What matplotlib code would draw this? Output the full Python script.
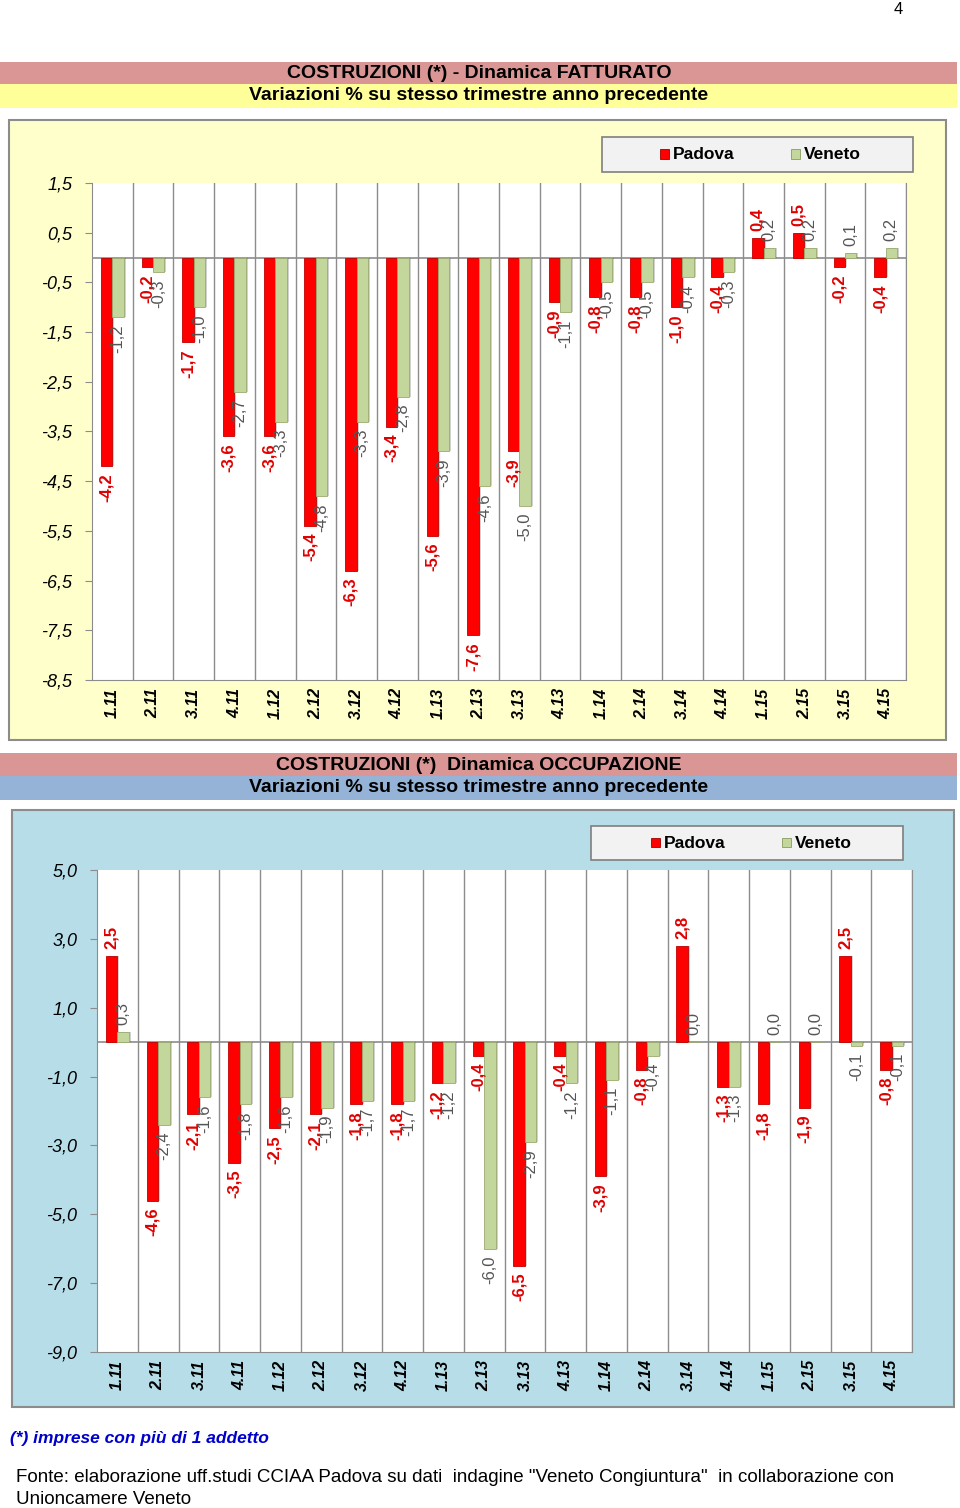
import numpy as np
import matplotlib.pyplot as plt
from matplotlib.patches import Rectangle

plt.rcParams['font.family'] = ['Liberation Sans', 'DejaVu Sans']

# dati
trimestri = ["1.11", "2.11", "3.11", "4.11", "1.12", "2.12", "3.12", "4.12", "1.13", "2.13",
             "3.13", "4.13", "1.14", "2.14", "3.14", "4.14", "1.15", "2.15", "3.15", "4.15"]

fatt_padova = [-4.2, -0.2, -1.7, -3.6, -3.6, -5.4, -6.3, -3.4, -5.6, -7.6,
               -3.9, -0.9, -0.8, -0.8, -1.0, -0.4, 0.4, 0.5, -0.2, -0.4]
fatt_veneto = [-1.2, -0.3, -1.0, -2.7, -3.3, -4.8, -3.3, -2.8, -3.9, -4.6,
               -5.0, -1.1, -0.5, -0.5, -0.4, -0.3, 0.2, 0.2, 0.1, 0.2]

occ_padova = [2.5, -4.6, -2.1, -3.5, -2.5, -2.1, -1.8, -1.8, -1.2, -0.4,
              -6.5, -0.4, -3.9, -0.8, 2.8, -1.3, -1.8, -1.9, 2.5, -0.8]
occ_veneto = [0.3, -2.4, -1.6, -1.8, -1.6, -1.9, -1.7, -1.7, -1.2, -6.0,
              -2.9, -1.2, -1.1, -0.4, 0.0, -1.3, 0.0, 0.0, -0.1, -0.1]

fatt_ticks = [1.5, 0.5, -0.5, -1.5, -2.5, -3.5, -4.5, -5.5, -6.5, -7.5, -8.5]
occ_ticks = [5.0, 3.0, 1.0, -1.0, -3.0, -5.0, -7.0, -9.0]

W, H = 960, 1508
ROSSO = "#FF0000"
VERDE = "#C3D69B"
GRIGIO = "#8C8C8C"

fig = plt.figure(figsize=(W / 100, H / 100), dpi=100)
fig.patch.set_facecolor("white")


def box(x0, y0, x1, y1):
    return [x0 / W, 1 - y1 / H, (x1 - x0) / W, (y1 - y0) / H]


def rett(x0, y0, x1, y1, fc, ec="none", lw=0, z=0):
    b = box(x0, y0, x1, y1)
    fig.add_artist(Rectangle((b[0], b[1]), b[2], b[3], transform=fig.transFigure,
                             facecolor=fc, edgecolor=ec, linewidth=lw, zorder=z))


def testo(x, y, s, **kw):
    fig.text(x / W, 1 - y / H, s, **kw)


def virgola(v):
    return f"{v:.1f}".replace(".", ",")


def legenda(x0, y0, x1, y1, xp, xv):
    rett(x0, y0, x1, y1, "#F2F2F2", "#7F7F7F", 1.2, z=1)
    ym = (y0 + y1) / 2
    rett(xp, ym - 5, xp + 9, ym + 4, ROSSO, "#A00000", 0.6, z=2)
    rett(xv, ym - 5, xv + 9, ym + 4, VERDE, "#8A9A60", 0.6, z=2)
    testo(xp + 13, ym, "Padova", fontsize=12.5, fontweight="bold", va="center", zorder=3)
    testo(xv + 13, ym, "Veneto", fontsize=12.5, fontweight="bold", va="center", zorder=3)


def grafico(rect, padova, veneto, ticks, off):
    ax = fig.add_axes(rect)
    x = np.arange(len(trimestri))
    w = 0.28
    # ombra
    ax.bar(x - w / 2 + 0.05, padova, w, color="#000000", alpha=0.18, zorder=2)
    ax.bar(x + w / 2 + 0.05, veneto, w, color="#000000", alpha=0.18, zorder=2)
    ax.bar(x - w / 2, padova, w, color=ROSSO, edgecolor="#C00000", linewidth=0.6, zorder=3)
    ax.bar(x + w / 2, veneto, w, color=VERDE, edgecolor="#9BAA70", linewidth=0.6, zorder=3)

    for i in x:
        p, v = padova[i], veneto[i]
        ax.annotate(virgola(p), (i - w / 2, p), xytext=(0, off if p >= 0 else -off),
                    textcoords="offset points", rotation=90, ha="center",
                    va="bottom" if p >= 0 else "top", color="#E00000",
                    fontsize=12, fontweight="bold", zorder=4)
        ax.annotate(virgola(v), (i + w / 2, v), xytext=(0, off if v >= 0 else -off),
                    textcoords="offset points", rotation=90, ha="center",
                    va="bottom" if v >= 0 else "top", color="#555555",
                    fontsize=12, zorder=4)

    for b in np.arange(0.5, len(trimestri), 1):
        ax.axvline(b, color=GRIGIO, lw=1, zorder=1)
    ax.axhline(0, color=GRIGIO, lw=1.2, zorder=1)

    ax.set_xlim(-0.5, len(trimestri) - 0.5)
    ax.set_ylim(min(ticks), max(ticks))
    ax.set_yticks(ticks)
    ax.set_yticklabels([virgola(t) for t in ticks], fontsize=13, style="italic")
    ax.set_xticks(x)
    ax.set_xticklabels(trimestri, rotation=90, fontsize=11.5, fontweight="bold", style="italic")
    ax.tick_params(axis="x", length=0, pad=6)
    ax.tick_params(axis="y", length=5, color=GRIGIO, pad=9)
    ax.spines["top"].set_visible(False)
    for s in ["left", "bottom", "right"]:
        ax.spines[s].set_color(GRIGIO)
    ax.set_facecolor("white")
    return ax


# numero di pagina
testo(898, 9, "4", fontsize=12, ha="center", va="center")

# ---- FATTURATO
rett(0, 62, 957, 84, "#D99694")
rett(0, 84, 957, 108, "#FFFF99")
testo(479, 73, "COSTRUZIONI (*) - Dinamica FATTURATO", fontsize=14, fontweight="bold",
      ha="center", va="center")
testo(479, 96, "Variazioni % su stesso trimestre anno precedente", fontsize=14,
      fontweight="bold", ha="center", va="center")
rett(9, 120, 946, 740, "#FFFFCC", "#8C8C8C", 1.5)
legenda(602, 137, 913, 172, 660, 791)
grafico(box(92, 183, 906, 680), fatt_padova, fatt_veneto, fatt_ticks, 5)

# ---- OCCUPAZIONE
rett(0, 753, 957, 776, "#D99694")
rett(0, 776, 957, 800, "#95B3D7")
testo(479, 765, "COSTRUZIONI (*)  Dinamica OCCUPAZIONE", fontsize=14, fontweight="bold",
      ha="center", va="center")
testo(479, 788, "Variazioni % su stesso trimestre anno precedente", fontsize=14,
      fontweight="bold", ha="center", va="center")
rett(12, 810, 954, 1407, "#B7DDE8", "#8C8C8C", 1.5)
legenda(591, 826, 903, 860, 651, 782)
grafico(box(97, 870, 912, 1352), occ_padova, occ_veneto, occ_ticks, 5)

# note
testo(10, 1438, "(*) imprese con più di 1 addetto", fontsize=12.5, fontweight="bold",
      style="italic", color="#0000CC", va="center")
testo(16, 1477, 'Fonte: elaborazione uff.studi CCIAA Padova su dati  indagine "Veneto Congiuntura"  in collaborazione con',
      fontsize=13.5, va="center")
testo(16, 1500, "Unioncamere Veneto", fontsize=13.5, va="center")

fig.savefig("out.png", dpi=100)
